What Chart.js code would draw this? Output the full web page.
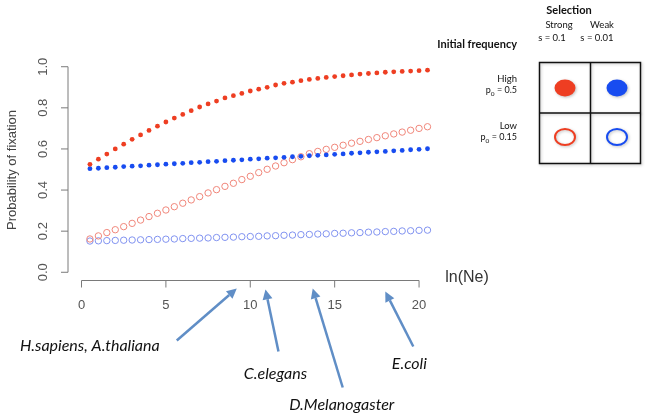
<!doctype html>
<html lang="en">
  <head>
    <meta charset="utf-8">
    <title>Probability of fixation</title>
    <style>
      html, body { margin: 0; padding: 0; background: #fff; }
      #myChart { display: block; }
    </style>
  </head>
  <body>
    <canvas id="myChart" width="649" height="418"></canvas>

    <script src="https://cdn.jsdelivr.net/npm/chart.js"></script>
    <script>
        // ln(Ne) values, step 0.5
        var lnNe = [0.5, 1, 1.5, 2, 2.5, 3, 3.5, 4, 4.5, 5, 5.5, 6, 6.5, 7, 7.5, 8, 8.5, 9, 9.5, 10,
                    10.5, 11, 11.5, 12, 12.5, 13, 13.5, 14, 14.5, 15, 15.5, 16, 16.5, 17, 17.5, 18, 18.5, 19, 19.5, 20, 20.5];

        // strong selection (s = 0.1), high p0 = 0.5
        var strongHigh = [0.525, 0.550, 0.575, 0.600, 0.623, 0.647, 0.668, 0.690, 0.711, 0.731, 0.750, 0.768, 0.786, 0.804,
                          0.819, 0.833, 0.848, 0.859, 0.870, 0.882, 0.891, 0.900, 0.911, 0.919, 0.925, 0.932, 0.938, 0.943,
                          0.948, 0.952, 0.956, 0.960, 0.964, 0.967, 0.970, 0.973, 0.975, 0.977, 0.979, 0.981, 0.983];
        // weak selection (s = 0.01), high p0 = 0.5
        var weakHigh = [0.504, 0.506, 0.509, 0.511, 0.514, 0.516, 0.518, 0.521, 0.523, 0.526, 0.528, 0.530, 0.533, 0.535,
                        0.538, 0.540, 0.543, 0.545, 0.547, 0.550, 0.552, 0.555, 0.557, 0.559, 0.562, 0.564, 0.567, 0.569,
                        0.571, 0.574, 0.576, 0.579, 0.581, 0.584, 0.586, 0.588, 0.591, 0.593, 0.596, 0.598, 0.601];
        // strong selection, low p0 = 0.15
        var strongLow = [0.162, 0.177, 0.193, 0.207, 0.222, 0.238, 0.254, 0.271, 0.287, 0.303, 0.319, 0.336, 0.352, 0.368,
                         0.386, 0.402, 0.418, 0.433, 0.451, 0.467, 0.485, 0.501, 0.517, 0.533, 0.548, 0.562, 0.577, 0.588,
                         0.598, 0.608, 0.618, 0.628, 0.637, 0.646, 0.655, 0.664, 0.673, 0.682, 0.691, 0.700, 0.708];
        // weak selection, low p0 = 0.15
        var weakLow = [0.152, 0.153, 0.154, 0.155, 0.156, 0.157, 0.158, 0.159, 0.160, 0.161, 0.162, 0.164, 0.165, 0.166,
                       0.167, 0.169, 0.170, 0.171, 0.173, 0.174, 0.175, 0.177, 0.178, 0.180, 0.181, 0.183, 0.184, 0.186,
                       0.187, 0.189, 0.190, 0.192, 0.193, 0.195, 0.196, 0.198, 0.199, 0.201, 0.202, 0.204, 0.205];

        var xTicks = [0, 5, 10, 15, 20];
        var yTicks = [0, 0.2, 0.4, 0.6, 0.8, 1.0];

        // organisms and where their ln(Ne) sits on the axis
        var organisms = ['H.sapiens, A.thaliana', 'C.elegans', 'D.Melanogaster', 'E.coli'];
        var organismLnNe = [9.2, 10.9, 13.7, 18.0];

        function toPoints(ys) {
            var pts = [];
            for (var i = 0; i < lnNe.length; i++) {
                pts.push({x: lnNe[i], y: ys[i]});
            }
            return pts;
        }

        var RED = 'rgb(238, 62, 34)';
        var BLUE = 'rgb(24, 76, 240)';
        var RED_LIGHT = 'rgb(240, 134, 122)';
        var BLUE_LIGHT = 'rgb(128, 146, 240)';
        var AXIS = '#7a7a7a';
        var ARROW = 'rgb(96, 142, 198)';

        // label offsets (pixels) and arrow tails, relative to the tip on the axis
        var annoStyle = [
            {tail: [-60, 52], text: [-147, 57], tipDy: 8},
            {tail: [13, 62], text: [10, 84], tipDy: 9},
            {tail: [30, 99], text: [29, 116], tipDy: 8},
            {tail: [28, 55], text: [24, 72], tipDy: 11}
        ];

        function drawArrow(ctx, x0, y0, x1, y1) {
            var ang = Math.atan2(y1 - y0, x1 - x0);
            var hl = 10, hw = 5;
            var bx = x1 - hl * Math.cos(ang), by = y1 - hl * Math.sin(ang);
            ctx.strokeStyle = ARROW;
            ctx.fillStyle = ARROW;
            ctx.lineWidth = 2.5;
            ctx.beginPath();
            ctx.moveTo(x0, y0);
            ctx.lineTo(bx, by);
            ctx.stroke();
            ctx.beginPath();
            ctx.moveTo(x1, y1);
            ctx.lineTo(bx + hw * Math.sin(ang), by - hw * Math.cos(ang));
            ctx.lineTo(bx - hw * Math.sin(ang), by + hw * Math.cos(ang));
            ctx.closePath();
            ctx.fill();
        }

        function drawP0(ctx, rightX, y, val) {
            ctx.font = '9px Lato';
            var w1 = ctx.measureText('p').width;
            ctx.font = '6.5px Lato';
            var w2 = ctx.measureText('0').width;
            ctx.font = '9px Lato';
            var w3 = ctx.measureText(' = ' + val).width;
            var x = rightX - (w1 + w2 + w3);
            ctx.textAlign = 'left';
            ctx.fillText('p', x, y);
            ctx.font = '6.5px Lato';
            ctx.fillText('0', x + w1, y + 2.5);
            ctx.font = '9px Lato';
            ctx.fillText(' = ' + val, x + w1 + w2, y);
        }

        var rAxes = {
            id: 'rAxes',
            afterDraw: function(chart) {
                var ctx = chart.ctx;
                var xs = chart.scales.x, ys = chart.scales.y;
                var left = chart.chartArea.left, bottom = chart.chartArea.bottom;
                ctx.save();

                // y axis
                ctx.strokeStyle = AXIS;
                ctx.lineWidth = 1;
                ctx.beginPath();
                ctx.moveTo(left, ys.getPixelForValue(yTicks[0]));
                ctx.lineTo(left, ys.getPixelForValue(yTicks[yTicks.length - 1]));
                yTicks.forEach(function(t) {
                    var py = ys.getPixelForValue(t);
                    ctx.moveTo(left, py);
                    ctx.lineTo(left - 7, py);
                });
                ctx.stroke();
                ctx.fillStyle = '#555';
                ctx.font = '13px "Liberation Sans"';
                ctx.textAlign = 'center';
                ctx.textBaseline = 'middle';
                yTicks.forEach(function(t) {
                    var py = ys.getPixelForValue(t);
                    ctx.save();
                    ctx.translate(left - 25, py);
                    ctx.rotate(-Math.PI / 2);
                    ctx.fillText(t.toFixed(1), 0, 0);
                    ctx.restore();
                });

                // x axis
                ctx.beginPath();
                ctx.moveTo(xs.getPixelForValue(xTicks[0]), bottom);
                ctx.lineTo(xs.getPixelForValue(xTicks[xTicks.length - 1]), bottom);
                xTicks.forEach(function(t) {
                    var px = xs.getPixelForValue(t);
                    ctx.moveTo(px, bottom);
                    ctx.lineTo(px, bottom + 7);
                });
                ctx.stroke();
                xTicks.forEach(function(t) {
                    ctx.fillText(String(t), xs.getPixelForValue(t), bottom + 25);
                });

                // axis titles
                ctx.fillStyle = '#444';
                ctx.save();
                ctx.translate(12, 170);
                ctx.rotate(-Math.PI / 2);
                ctx.fillText('Probability of fixation', 0, 0);
                ctx.restore();
                ctx.fillStyle = '#333';
                ctx.font = '16px "Liberation Sans"';
                ctx.fillText('ln(Ne)', 467, 278);

                // organism arrows
                ctx.font = 'italic 16px Lato';
                for (var i = 0; i < organisms.length; i++) {
                    var tx = xs.getPixelForValue(organismLnNe[i]);
                    var st = annoStyle[i];
                    var ty = bottom + st.tipDy;
                    drawArrow(ctx, tx + st.tail[0], ty + st.tail[1], tx, ty);
                    ctx.fillStyle = '#111';
                    ctx.textAlign = 'center';
                    ctx.textBaseline = 'middle';
                    ctx.fillText(organisms[i], tx + st.text[0], ty + st.text[1]);
                }

                // legend grid
                ctx.fillStyle = '#111';
                ctx.textBaseline = 'alphabetic';
                ctx.font = 'bold 11px Lato';
                ctx.textAlign = 'center';
                ctx.fillText('Selection', 569, 14);
                ctx.font = '9.5px Lato';
                ctx.fillText('Strong', 559, 28);
                ctx.fillText('Weak', 602, 28);
                ctx.fillText('s = 0.1', 552, 41);
                ctx.fillText('s = 0.01', 597, 41);
                ctx.font = 'bold 11px Lato';
                ctx.textAlign = 'right';
                ctx.fillText('Initial frequency', 517, 48);
                ctx.font = '9.5px Lato';
                ctx.fillText('High', 517, 82);
                ctx.fillText('Low', 517, 129);
                drawP0(ctx, 517, 93, '0.5');
                drawP0(ctx, 517, 140, '0.15');

                ctx.shadowColor = 'rgba(0,0,0,0.25)';
                ctx.shadowBlur = 3;
                ctx.shadowOffsetX = 1;
                ctx.shadowOffsetY = 1;
                ctx.strokeStyle = '#111';
                ctx.lineWidth = 1.5;
                ctx.strokeRect(539.5, 62.5, 101, 101);
                ctx.beginPath();
                ctx.moveTo(590.5, 62.5);
                ctx.lineTo(590.5, 163.5);
                ctx.moveTo(539.5, 113);
                ctx.lineTo(640.5, 113);
                ctx.stroke();

                ctx.fillStyle = RED;
                ctx.beginPath();
                ctx.ellipse(565, 88, 10.5, 8.5, 0, 0, Math.PI * 2);
                ctx.fill();
                ctx.fillStyle = BLUE;
                ctx.beginPath();
                ctx.ellipse(617, 88, 10.5, 8.5, 0, 0, Math.PI * 2);
                ctx.fill();
                ctx.lineWidth = 2;
                ctx.strokeStyle = RED;
                ctx.beginPath();
                ctx.ellipse(565, 137, 10, 8, 0, 0, Math.PI * 2);
                ctx.stroke();
                ctx.strokeStyle = BLUE;
                ctx.beginPath();
                ctx.ellipse(617, 137, 10, 8, 0, 0, Math.PI * 2);
                ctx.stroke();

                ctx.restore();
            }
        };

        const ctx = document.getElementById('myChart');
        new Chart(ctx, {
            type: 'scatter',
            data: {
                datasets: [
                    {
                        label: 'Strong, high p0',
                        data: toPoints(strongHigh),
                        pointRadius: 2.4,
                        pointBackgroundColor: RED,
                        pointBorderWidth: 0
                    },
                    {
                        label: 'Weak, high p0',
                        data: toPoints(weakHigh),
                        pointRadius: 2.4,
                        pointBackgroundColor: BLUE,
                        pointBorderWidth: 0
                    },
                    {
                        label: 'Strong, low p0',
                        data: toPoints(strongLow),
                        pointRadius: 3.2,
                        pointBackgroundColor: 'rgba(0,0,0,0)',
                        pointBorderColor: RED_LIGHT,
                        pointBorderWidth: 1
                    },
                    {
                        label: 'Weak, low p0',
                        data: toPoints(weakLow),
                        pointRadius: 3.2,
                        pointBackgroundColor: 'rgba(0,0,0,0)',
                        pointBorderColor: BLUE_LIGHT,
                        pointBorderWidth: 1
                    }
                ]
            },
            options: {
                responsive: false,
                animation: false,
                layout: {
                    padding: {left: 68, right: 208, top: 58.5, bottom: 137.5}
                },
                scales: {
                    x: {type: 'linear', min: -0.8, max: 21.3, display: false},
                    y: {type: 'linear', min: -0.04, max: 1.04, display: false}
                },
                plugins: {
                    legend: {display: false},
                    tooltip: {enabled: false}
                }
            },
            plugins: [rAxes]
        });
    </script>
  </body>
</html>
